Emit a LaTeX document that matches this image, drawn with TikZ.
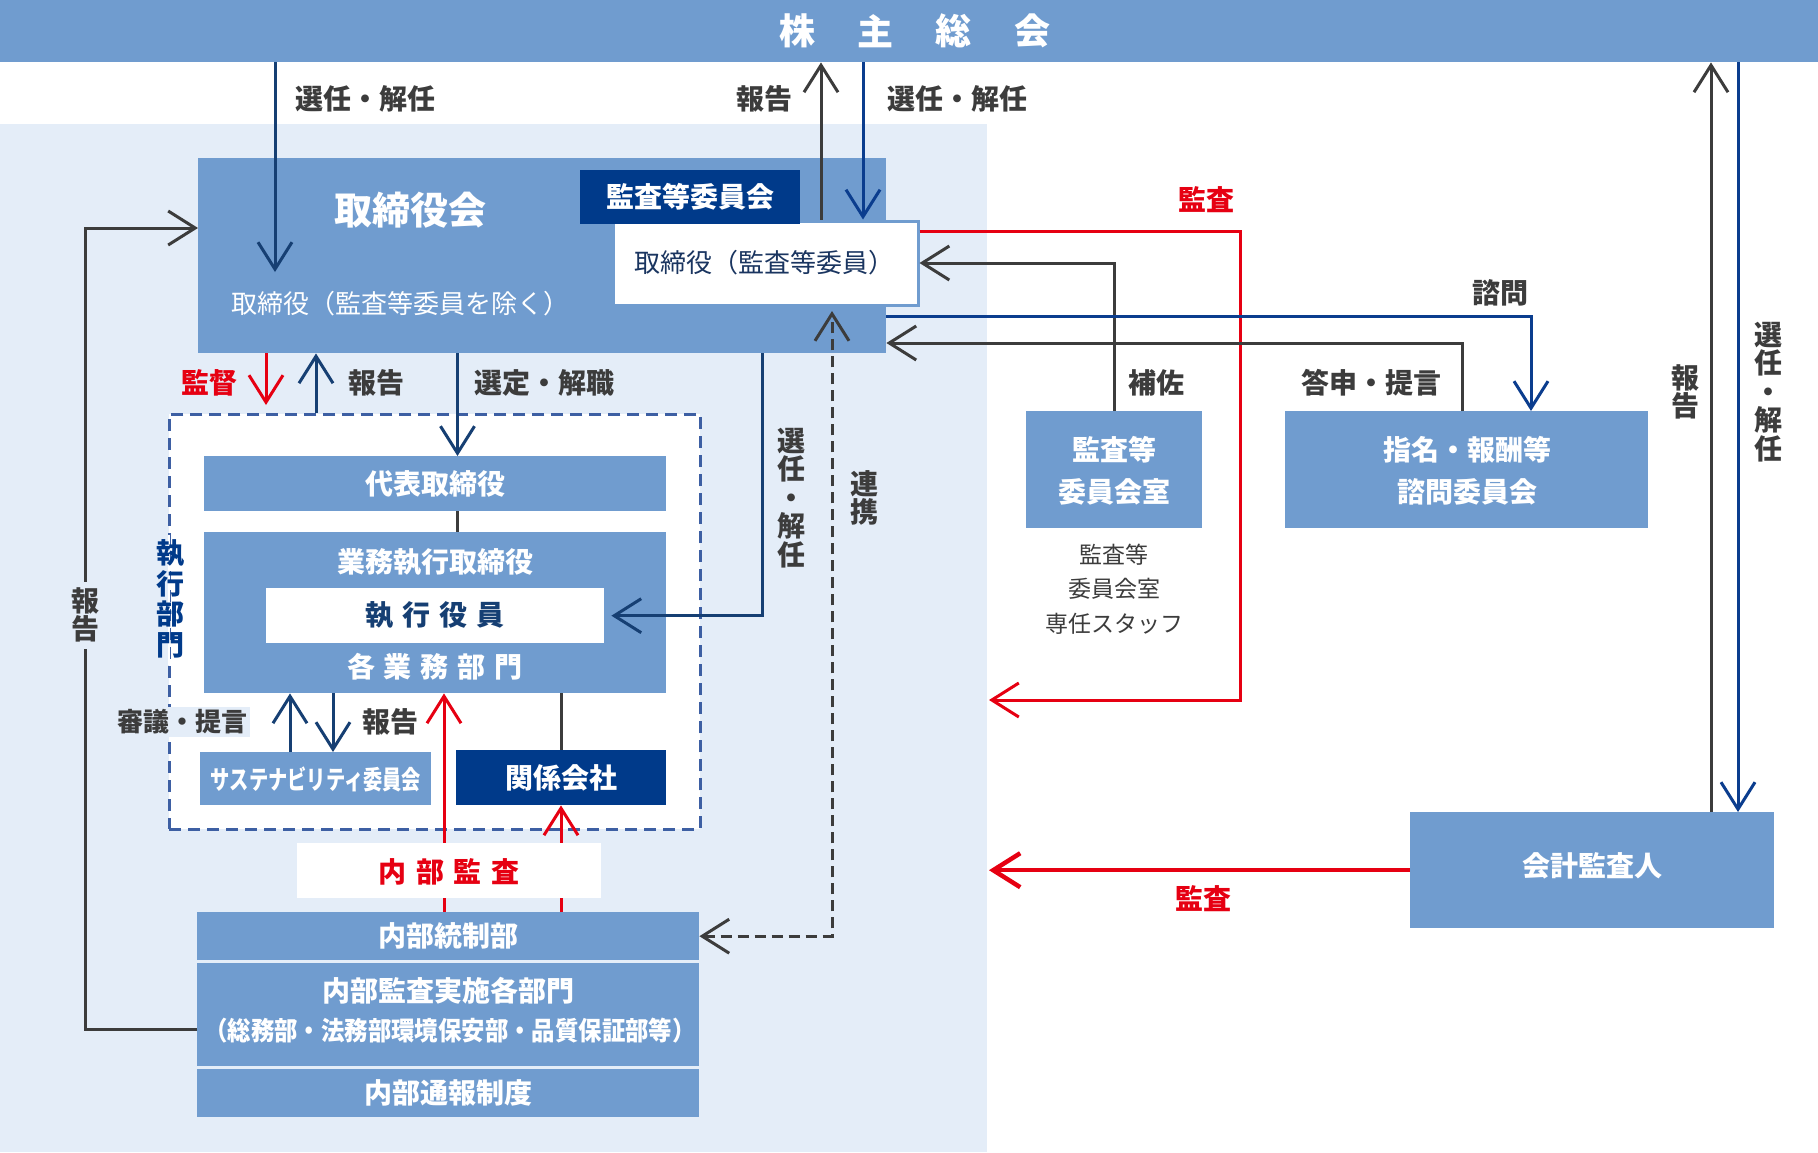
\documentclass[tikz,border=0pt]{standalone}
\usepackage{fontspec}
\setmainfont{Noto Sans CJK JP}
\usetikzlibrary{arrows.meta}
\definecolor{mblue}{HTML}{709CCF}
\definecolor{lbg}{HTML}{E4EDF8}
\definecolor{dnavy}{HTML}{003A8A}
\definecolor{anavy}{HTML}{163F73}
\definecolor{bnavy}{HTML}{0B3D8E}
\definecolor{dgray}{HTML}{3C3C3C}
\definecolor{ared}{HTML}{E60012}
\definecolor{dashblue}{HTML}{3D5FA3}
\definecolor{wtxt}{HTML}{1A3560}
\newcommand{\fsz}[1]{\fontsize{#1}{#1}\selectfont}
\tikzset{
  box/.style={rectangle, inner sep=0pt, anchor=north west, fill=mblue},
  wt/.style={text=white, font=\fsz{28}\bfseries, inner sep=0pt},
  lbl/.style={text=dgray, font=\fsz{28}\bfseries, inner sep=0pt},
  rlbl/.style={text=ared, font=\fsz{28}\bfseries, inner sep=0pt},
  vlbl/.style={text=dgray, font=\fontsize{28}{28.5}\selectfont\bfseries, inner sep=0pt, align=center},
  arr/.style={line width=3pt, -{Straight Barb[length=27pt,width=34pt]}},
}
\begin{document}
\begin{tikzpicture}[x=1pt,y=-1pt]
\useasboundingbox (0,0) rectangle (1818,1152);
\fill[white] (0,0) rectangle (1818,1152);
\fill[lbg] (0,124) rectangle (987,1152);
% top bar
\node[box, minimum width=1818pt, minimum height=62pt] (bar) at (0,0) {};
\node[wt, font=\fsz{36}\bfseries] (t1) at (797,31) {株};
\node[wt, font=\fsz{36}\bfseries] (t2) at (875,31) {主};
\node[wt, font=\fsz{36}\bfseries] (t3) at (953,31) {総};
\node[wt, font=\fsz{36}\bfseries] (t4) at (1032,31) {会};
% board
\node[box, minimum width=688pt, minimum height=195pt] (board) at (198,158) {};
\node[wt, font=\fsz{38}\bfseries] (boardt) at (410,210) {取締役会};
\node[wt, font=\fsz{26}\mdseries] (boardt2) at (400,304) {取締役（監査等委員を除く）};
\node[box, fill=white, draw=mblue, line width=3pt, minimum width=305pt, minimum height=84pt] (wbox) at (611.5,219.5) {};
\node[text=wtxt, font=\fsz{26}, inner sep=0pt] (wboxt) at (764,263) {取締役（監査等委員）};
\node[box, fill=dnavy, minimum width=220pt, minimum height=54pt] (kcom) at (580,170) {};
\node[wt] (kcomt) at (690,197) {監査等委員会};
% executive dashed area
\node[box, fill=white, draw=dashblue, line width=2.5pt, dash pattern=on 12pt off 7pt, minimum width=531pt, minimum height=415pt] (exec) at (168,413) {};
\node[box, minimum width=462pt, minimum height=55pt] (daihyo) at (204,456) {};
\node[wt] (daihyot) at (435,484) {代表取締役};
\node[box, minimum width=462pt, minimum height=161pt] (gyomu) at (204,532) {};
\node[wt] (gyomut) at (435,562) {業務執行取締役};
\node[wt] (gyomut2) at (435,667) {各\hspace{9pt}業\hspace{9pt}務\hspace{9pt}部\hspace{9pt}門};
\node[box, fill=white, minimum width=338pt, minimum height=55pt] (yakuin) at (266,588) {};
\node[wt, text=anavy] (yakuint) at (435,615) {執\hspace{9pt}行\hspace{9pt}役\hspace{9pt}員};
\node[box, minimum width=231pt, minimum height=53pt] (sust) at (200,752) {};
\node[wt, font=\fsz{26}\bfseries] (sustt) at (316,779) {\scalebox{0.74}[1]{サステナビリティ委員会}};
\node[box, fill=dnavy, minimum width=210pt, minimum height=55pt] (kankei) at (456,750) {};
\node[wt] (kankeit) at (561,778) {関係会社};
% bottom boxes
\node[box, minimum width=502pt, minimum height=48pt] (naibu) at (197,912) {};
\node[wt] (naibut) at (448,936) {内部統制部};
\node[box, minimum width=502pt, minimum height=103pt] (jisshi) at (197,963) {};
\node[wt] (jisshit) at (448,991) {内部監査実施各部門};
\node[wt, font=\fsz{26}\bfseries] (jisshit2) at (450,1031) {\scalebox{0.9}[1]{（総務部・法務部環境保安部・品質保証部等）}};
\node[box, minimum width=502pt, minimum height=48pt] (tsuho) at (197,1069) {};
\node[wt] (tsuhot) at (448,1093) {内部通報制度};
% right boxes
\node[box, minimum width=176pt, minimum height=117pt] (kansa) at (1026,411) {};
\node[wt] (kansat1) at (1114,450) {監査等};
\node[wt] (kansat2) at (1114,492) {委員会室};
\node[box, minimum width=363pt, minimum height=117pt] (shimei) at (1285,411) {};
\node[wt] (shimeit1) at (1467,450) {指名・報酬等};
\node[wt] (shimeit2) at (1467,492) {諮問委員会};
\node[text=dgray, font=\fsz{23}, inner sep=0pt] (staff1) at (1114,555) {監査等};
\node[text=dgray, font=\fsz{23}, inner sep=0pt] (staff2) at (1114,589) {委員会室};
\node[text=dgray, font=\fsz{23}, inner sep=0pt] (staff3) at (1114,624) {専任スタッフ};
\node[box, minimum width=364pt, minimum height=116pt] (audit) at (1410,812) {};
\node[wt] (auditt) at (1592,866) {会計監査人};
% column coordinates
\coordinate (cA) at (275,272);
\coordinate (cB) at (821,0);
\coordinate (cC) at (863,0);
\coordinate (cD) at (1711,0);
\coordinate (cE) at (1738,0);
\coordinate (tAud) at (989,0);
\coordinate (rA) at (1240,231);
\coordinate (rB) at (989,700);
\coordinate (cG) at (1531,316);
\coordinate (cH) at (1462,343);
\coordinate (cI) at (266,405);
\coordinate (cJ) at (316,0);
\coordinate (cK) at (457.5,0);
\coordinate (cL) at (762,0);
\coordinate (tM) at (832,311);
\coordinate (cN) at (444,0);
\coordinate (cO) at (561,0);
\coordinate (lp1) at (85,1029);
\coordinate (lp2) at (85,228);
\coordinate (cS1) at (290,0);
\coordinate (cS2) at (333,0);
% connectors
\draw[arr, anavy] (bar.south -| cA) -- (cA);
\draw[arr, dgray] (wbox.north -| cB) -- (bar.south -| cB);
\draw[arr, bnavy] (bar.south -| cC) -- (wbox.north -| cC);
\draw[arr, dgray] (audit.north -| cD) -- (bar.south -| cD);
\draw[arr, bnavy] (bar.south -| cE) -- (audit.north -| cE);
\draw[arr, ared, line width=4.5pt] (audit.west) -- (audit.west -| tAud);
\draw[arr, ared] (wbox.east |- rA) -- (rA) |- (rB);
\draw[arr, dgray] (kansa.north) |- (wbox.east);
\draw[arr, bnavy] (board.east |- cG) -| (shimei.north -| cG);
\draw[arr, dgray] (shimei.north -| cH) |- (board.east |- cH);
\draw[arr, ared] (board.south -| cI) -- (cI);
\draw[arr, anavy] (exec.north -| cJ) -- (board.south -| cJ);
\draw[arr, anavy] (board.south -| cK) -- (daihyo.north -| cK);
\draw[line width=3pt, dgray] (daihyo.south -| cK) -- (gyomu.north -| cK);
\draw[arr, anavy] (board.south -| cL) |- ([xshift=7pt]yakuin.east);
\draw[line width=3pt, dgray, dash pattern=on 11pt off 6pt, {Straight Barb[length=27pt,width=34pt]}-{Straight Barb[length=27pt,width=34pt]}] (naibu.east) -| (tM);
\draw[arr, anavy] (sust.north -| cS1) -- (gyomu.south -| cS1);
\draw[arr, anavy] (gyomu.south -| cS2) -- (sust.north -| cS2);
\draw[arr, ared] (naibu.north -| cN) -- (gyomu.south -| cN);
\draw[arr, ared] (naibu.north -| cO) -- (kankei.south -| cO);
\draw[line width=3pt, dgray] (gyomu.south -| cO) -- (kankei.north -| cO);
\draw[arr, dgray] (jisshi.west |- lp1) -- (lp1) -- (lp2) -- (board.west |- lp2);
% labels
\node[lbl] (l1) at (365,99) {選任・解任};
\node[lbl] (l2) at (764,99) {報告};
\node[lbl] (l3) at (957,99) {選任・解任};
\node[rlbl] (l4) at (1206,200) {監査};
\node[lbl] (l5) at (1156,383) {補佐};
\node[lbl] (l6) at (1500,293) {諮問};
\node[lbl] (l7) at (1371,383) {答申・提言};
\node[vlbl] (l8) at (1685,392) {報\\告};
\node[vlbl] (l9) at (1768,392) {選\\任\\・\\解\\任};
\node[rlbl] (l10) at (1203,899) {監査};
\node[rlbl] (l11) at (209,383) {監督};
\node[lbl] (l12) at (376,383) {報告};
\node[lbl] (l13) at (544,383) {選定・解職};
\fill[lbg] (166,535) rectangle (168,665);
\fill[white] (168,535) rectangle (170,665);
\node[vlbl, text=dnavy, font=\fontsize{28}{30.5}\selectfont\bfseries] (l14) at (170,599) {執\\行\\部\\門};
\node[vlbl] (l15) at (791,498) {選\\任\\・\\解\\任};
\node[vlbl] (l16) at (864,498) {連\\携};
\node[lbl, fill=lbg, inner sep=3pt, font=\fsz{26}\bfseries] (l17) at (182,722) {審議・提言};
\node[lbl] (l18) at (390,722) {報告};
\node[vlbl, fill=lbg, inner sep=6pt] (l19) at (85,615) {報\\告};
\node[rectangle, fill=white, minimum width=304pt, minimum height=55pt, inner sep=0pt] (naibukansa) at (449,870) {};
\node[rlbl] (naibukansat) at (449,872) {内\hspace{10pt}部\hspace{10pt}監\hspace{10pt}査};
\end{tikzpicture}
\end{document}
